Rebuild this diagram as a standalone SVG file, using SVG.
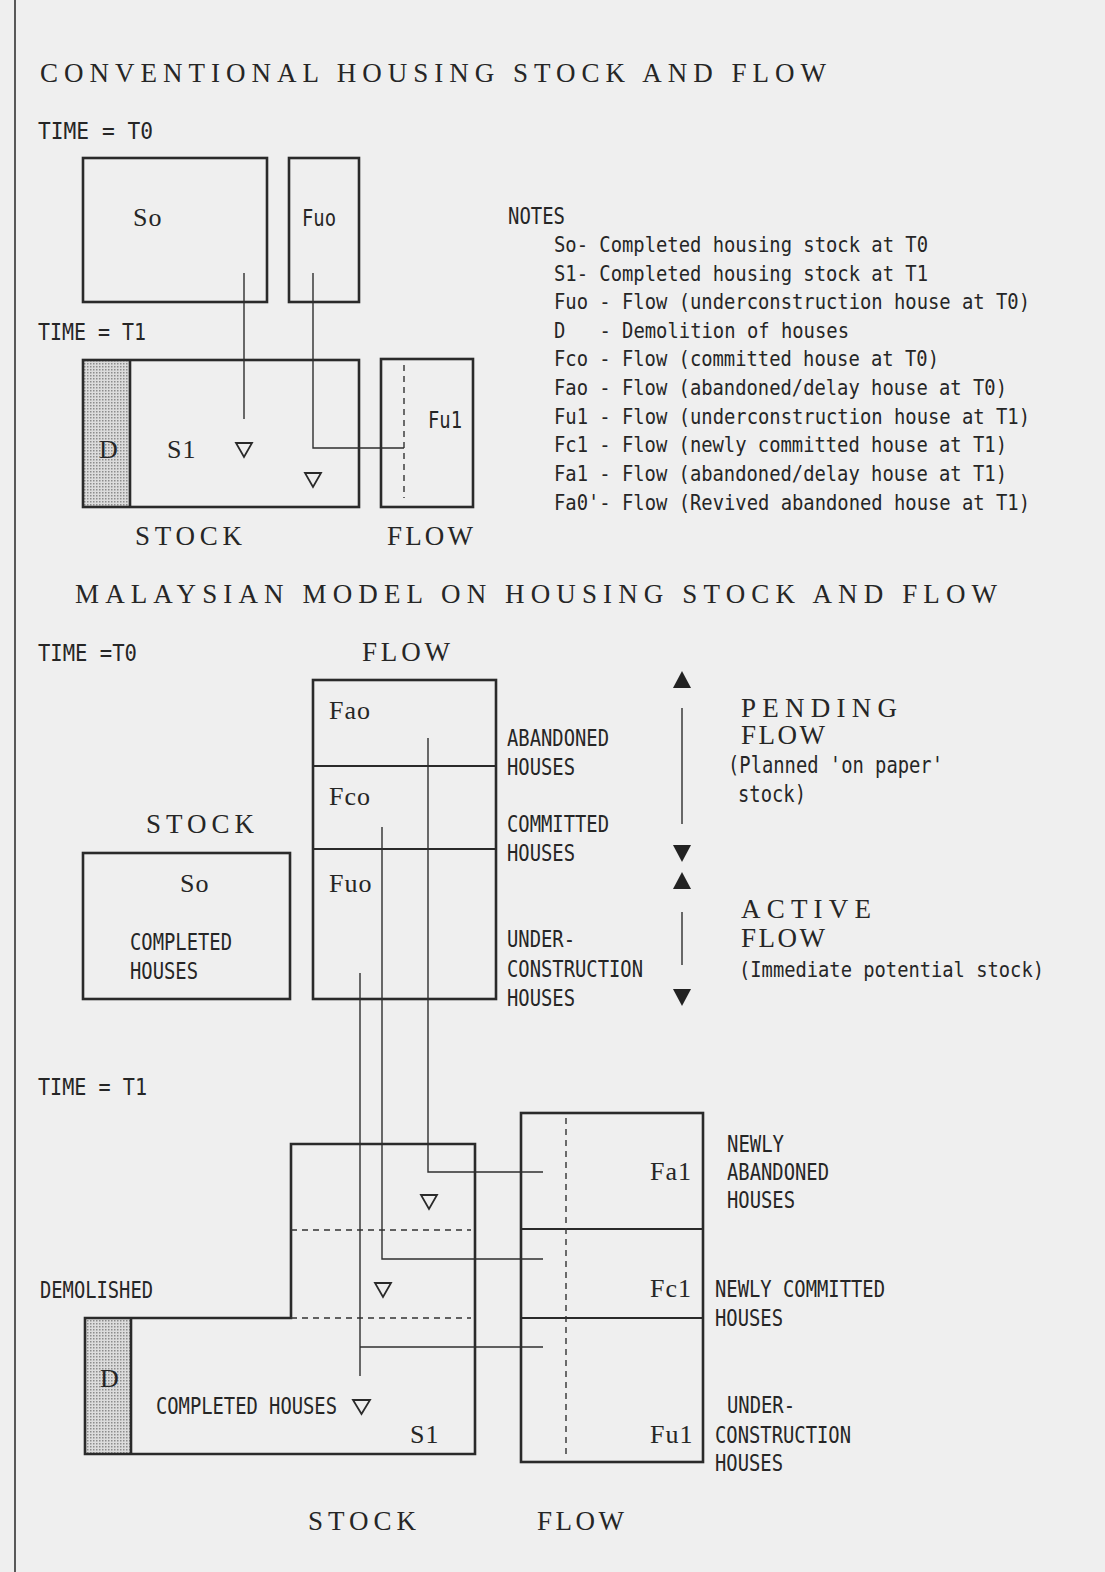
<svg xmlns="http://www.w3.org/2000/svg" width="1105" height="1572" viewBox="0 0 1105 1572">
<style>
.m{font-family:"DejaVu Sans Mono","Liberation Mono",monospace;font-size:23px;fill:#262626}
.n{font-size:21.5px}
.s{font-family:"Liberation Serif","DejaVu Serif",serif;font-size:27px;fill:#262626}
.l{font-family:"Liberation Serif","DejaVu Serif",serif;font-size:26px;fill:#262626;letter-spacing:1px}
.box{fill:none;stroke:#2a2a2a;stroke-width:2.6}
.div{fill:none;stroke:#2a2a2a;stroke-width:2.2}
.thin{fill:none;stroke:#2f2f2f;stroke-width:1.4}
.dash{fill:none;stroke:#333;stroke-width:1.4;stroke-dasharray:6 5}
.tri{fill:none;stroke:#2a2a2a;stroke-width:1.8;stroke-linejoin:miter}
.ftri{fill:#222;stroke:none}
</style>
<defs>
<pattern id="dots" width="3" height="3" patternUnits="userSpaceOnUse">
<rect width="3" height="3" fill="#dcdcdc"/>
<rect width="1.5" height="1.5" fill="#8c8c8c"/>
</pattern>
</defs>
<rect x="0" y="0" width="1105" height="1572" fill="#efefef"/>
<line x1="15" y1="0" x2="15" y2="1572" stroke="#333" stroke-width="1.6"/>

<!-- Section 1 -->
<g id="title1">
<text class="s" x="40" y="82" textLength="786" lengthAdjust="spacing">CONVENTIONAL HOUSING STOCK AND FLOW</text>
</g>
<g id="time-t0-top"><text class="m" x="38" y="139" textLength="115" lengthAdjust="spacingAndGlyphs">TIME = T0</text></g>
<g id="time-t1-top"><text class="m" x="38" y="340" textLength="108" lengthAdjust="spacingAndGlyphs">TIME = T1</text></g>

<g id="node-so-top">
<rect class="box" x="83" y="158" width="184" height="144"/>
<text class="l" x="133" y="226">So</text>
</g>
<g id="node-fuo-top">
<rect class="box" x="289" y="158" width="70" height="144"/>
<text class="m" x="302" y="226" textLength="34" lengthAdjust="spacingAndGlyphs">Fuo</text>
</g>
<g id="node-s1-top">
<rect x="83" y="360" width="47" height="147" fill="url(#dots)"/>
<rect class="box" x="83" y="360" width="276" height="147"/>
<line class="box" x1="130" y1="360" x2="130" y2="507"/>
<text class="l" x="99" y="458">D</text>
<text class="l" x="167" y="458">S1</text>
<polygon class="tri" points="236,443 252,443 244,457"/>
<polygon class="tri" points="305,473 321,473 313,487"/>
</g>
<g id="node-fu1-top">
<rect class="box" x="381" y="359" width="92" height="148"/>
<line class="dash" x1="404" y1="365" x2="404" y2="498"/>
<text class="m" x="428" y="428" textLength="34" lengthAdjust="spacingAndGlyphs">Fu1</text>
</g>
<g id="labels-top">
<text class="s" x="135" y="545" textLength="107" lengthAdjust="spacing">STOCK</text>
<text class="s" x="387" y="545" textLength="86" lengthAdjust="spacing">FLOW</text>
</g>
<g id="notes">
<text class="m" x="508" y="224" textLength="57" lengthAdjust="spacingAndGlyphs">NOTES</text>
<text class="m n" x="554" y="252" textLength="374" lengthAdjust="spacingAndGlyphs">So- Completed housing stock at T0</text>
<text class="m n" x="554" y="281" textLength="374" lengthAdjust="spacingAndGlyphs">S1- Completed housing stock at T1</text>
<text class="m n" x="554" y="309" textLength="476" lengthAdjust="spacingAndGlyphs">Fuo - Flow (underconstruction house at T0)</text>
<text class="m n" x="554" y="338" textLength="295" lengthAdjust="spacingAndGlyphs" xml:space="preserve">D   - Demolition of houses</text>
<text class="m n" x="554" y="366" textLength="385" lengthAdjust="spacingAndGlyphs">Fco - Flow (committed house at T0)</text>
<text class="m n" x="554" y="395" textLength="453" lengthAdjust="spacingAndGlyphs">Fao - Flow (abandoned/delay house at T0)</text>
<text class="m n" x="554" y="424" textLength="476" lengthAdjust="spacingAndGlyphs">Fu1 - Flow (underconstruction house at T1)</text>
<text class="m n" x="554" y="452" textLength="453" lengthAdjust="spacingAndGlyphs">Fc1 - Flow (newly committed house at T1)</text>
<text class="m n" x="554" y="481" textLength="453" lengthAdjust="spacingAndGlyphs">Fa1 - Flow (abandoned/delay house at T1)</text>
<text class="m n" x="554" y="510" textLength="476" lengthAdjust="spacingAndGlyphs">Fa0'- Flow (Revived abandoned house at T1)</text>
</g>

<!-- Section 2 -->
<g id="title2">
<text class="s" x="75" y="603" textLength="922" lengthAdjust="spacing">MALAYSIAN MODEL ON HOUSING STOCK AND FLOW</text>
</g>
<g id="time-t0-mid"><text class="m" x="38" y="661" textLength="99" lengthAdjust="spacingAndGlyphs">TIME =T0</text></g>
<g id="label-flow-mid"><text class="s" x="362" y="661" textLength="88" lengthAdjust="spacing">FLOW</text></g>
<g id="label-stock-mid"><text class="s" x="146" y="833" textLength="108" lengthAdjust="spacing">STOCK</text></g>
<g id="node-flow-t0">
<rect class="box" x="313" y="680" width="183" height="319"/>
<line class="div" x1="313" y1="766" x2="496" y2="766"/>
<line class="div" x1="313" y1="849" x2="496" y2="849"/>
<text class="l" x="329" y="719">Fao</text>
<text class="l" x="329" y="805">Fco</text>
<text class="l" x="329" y="892">Fuo</text>
</g>
<g id="node-so-mid">
<rect class="box" x="83" y="853" width="207" height="146"/>
<text class="l" x="180" y="892">So</text>
<text class="m" x="130" y="950" textLength="102" lengthAdjust="spacingAndGlyphs">COMPLETED</text>
<text class="m" x="130" y="979" textLength="68" lengthAdjust="spacingAndGlyphs">HOUSES</text>
</g>
<g id="labels-flow-t0">
<text class="m" x="507" y="746" textLength="102" lengthAdjust="spacingAndGlyphs">ABANDONED</text>
<text class="m" x="507" y="775" textLength="68" lengthAdjust="spacingAndGlyphs">HOUSES</text>
<text class="m" x="507" y="832" textLength="102" lengthAdjust="spacingAndGlyphs">COMMITTED</text>
<text class="m" x="507" y="861" textLength="68" lengthAdjust="spacingAndGlyphs">HOUSES</text>
<text class="m" x="507" y="947" textLength="68" lengthAdjust="spacingAndGlyphs">UNDER-</text>
<text class="m" x="507" y="977" textLength="136" lengthAdjust="spacingAndGlyphs">CONSTRUCTION</text>
<text class="m" x="507" y="1006" textLength="68" lengthAdjust="spacingAndGlyphs">HOUSES</text>
</g>
<g id="pending-flow">
<polygon class="ftri" points="673,688 691,688 682,671"/>
<polygon class="ftri" points="673,845 691,845 682,862"/>
<text class="s" x="741" y="717" textLength="156" lengthAdjust="spacing">PENDING</text>
<text class="s" x="741" y="744" textLength="84" lengthAdjust="spacing">FLOW</text>
<text class="m" x="728" y="773" textLength="215" lengthAdjust="spacingAndGlyphs">(Planned 'on paper'</text>
<text class="m" x="738" y="802" textLength="68" lengthAdjust="spacingAndGlyphs">stock)</text>
</g>
<g id="active-flow">
<polygon class="ftri" points="673,889 691,889 682,872"/>
<polygon class="ftri" points="673,989 691,989 682,1006"/>
<text class="s" x="741" y="918" textLength="130" lengthAdjust="spacing">ACTIVE</text>
<text class="s" x="741" y="947" textLength="84" lengthAdjust="spacing">FLOW</text>
<text class="m n" x="739" y="977" textLength="305" lengthAdjust="spacingAndGlyphs">(Immediate potential stock)</text>
</g>

<!-- Section 3 -->
<g id="time-t1-low"><text class="m" x="38" y="1095" textLength="109" lengthAdjust="spacingAndGlyphs">TIME = T1</text></g>
<g id="node-s1-low">
<rect x="85" y="1318" width="46" height="136" fill="url(#dots)"/>
<path class="box" d="M291,1144 H475 V1454 H85 V1318 H291 Z"/>
<line class="box" x1="131" y1="1318" x2="131" y2="1454"/>
<line class="dash" x1="291" y1="1230" x2="471" y2="1230"/>
<line class="dash" x1="291" y1="1318" x2="471" y2="1318"/>
<text class="l" x="100" y="1387">D</text>
<text class="m" x="156" y="1414" textLength="181" lengthAdjust="spacingAndGlyphs">COMPLETED HOUSES</text>
<polygon class="tri" points="353,1400 370,1400 361.5,1414"/>
<text class="l" x="410" y="1443">S1</text>
<polygon class="tri" points="421,1195 437,1195 429,1209"/>
<polygon class="tri" points="375,1283 391,1283 383,1297"/>
</g>
<g id="label-demolished"><text class="m" x="40" y="1298" textLength="113" lengthAdjust="spacingAndGlyphs">DEMOLISHED</text></g>
<g id="node-flow-t1">
<rect class="box" x="521" y="1113" width="182" height="349"/>
<line class="div" x1="521" y1="1229" x2="703" y2="1229"/>
<line class="div" x1="521" y1="1318" x2="703" y2="1318"/>
<line class="dash" x1="566" y1="1118" x2="566" y2="1456"/>
<text class="l" x="650" y="1180">Fa1</text>
<text class="l" x="650" y="1297">Fc1</text>
<text class="l" x="650" y="1443">Fu1</text>
</g>
<g id="labels-flow-t1">
<text class="m" x="727" y="1152" textLength="57" lengthAdjust="spacingAndGlyphs">NEWLY</text>
<text class="m" x="727" y="1180" textLength="102" lengthAdjust="spacingAndGlyphs">ABANDONED</text>
<text class="m" x="727" y="1208" textLength="68" lengthAdjust="spacingAndGlyphs">HOUSES</text>
<text class="m" x="715" y="1297" textLength="170" lengthAdjust="spacingAndGlyphs">NEWLY COMMITTED</text>
<text class="m" x="715" y="1326" textLength="68" lengthAdjust="spacingAndGlyphs">HOUSES</text>
<text class="m" x="727" y="1413" textLength="68" lengthAdjust="spacingAndGlyphs">UNDER-</text>
<text class="m" x="715" y="1443" textLength="136" lengthAdjust="spacingAndGlyphs">CONSTRUCTION</text>
<text class="m" x="715" y="1471" textLength="68" lengthAdjust="spacingAndGlyphs">HOUSES</text>
</g>
<g id="labels-low">
<text class="s" x="308" y="1530" textLength="108" lengthAdjust="spacing">STOCK</text>
<text class="s" x="537" y="1530" textLength="87" lengthAdjust="spacing">FLOW</text>
</g>

<g id="connectors">
<path class="thin" d="M244,273 V419"/>
<path class="thin" d="M313,273 V448 H404"/>
<path class="thin" d="M428,738 V1172 H543"/>
<path class="thin" d="M382,827 V1259 H543"/>
<path class="thin" d="M360,973 V1376"/>
<path class="thin" d="M360,1347 H543"/>
<path class="thin" d="M682,708 V824"/>
<path class="thin" d="M682,912 V965"/>
</g>
</svg>
